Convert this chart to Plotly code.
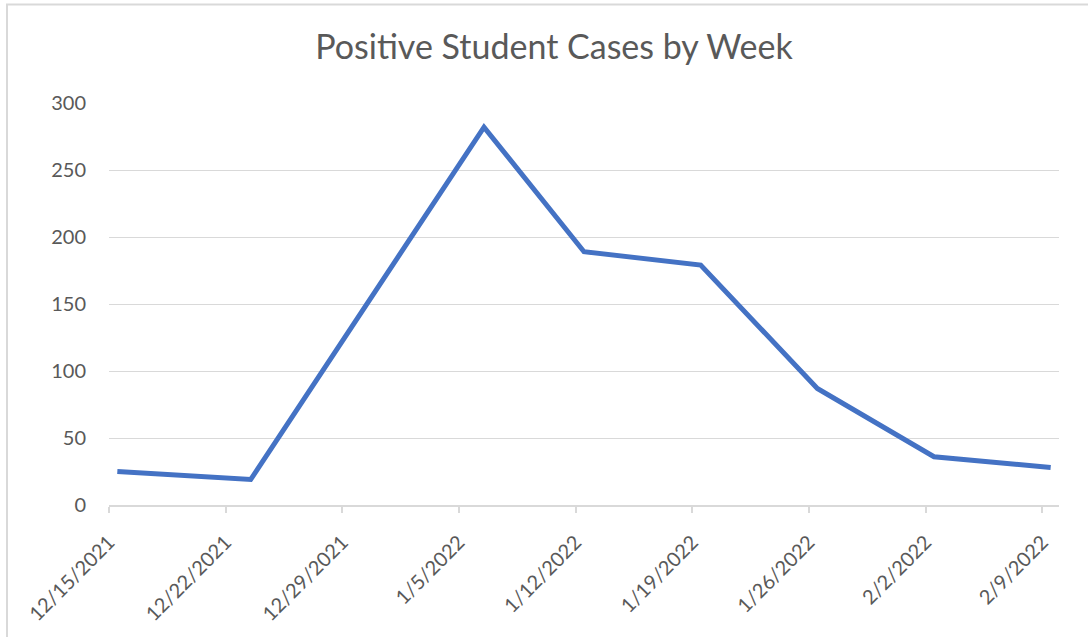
import pandas as pd
import plotly.graph_objects as go

# ---- data ----
week_dates = ["2021-12-15", "2021-12-23", "2022-01-06", "2022-01-12",
              "2022-01-19", "2022-01-26", "2022-02-02", "2022-02-09"]
positive_cases = [25, 19, 282, 189, 179, 87, 36, 28]

tick_dates = ["2021-12-15", "2021-12-22", "2021-12-29", "2022-01-05", "2022-01-12",
              "2022-01-19", "2022-01-26", "2022-02-02", "2022-02-09"]
tick_labels = ["12/15/2021", "12/22/2021", "12/29/2021", "1/5/2022", "1/12/2022",
               "1/19/2022", "1/26/2022", "2/2/2022", "2/9/2022"]
y_ticks = [0, 50, 100, 150, 200, 250, 300]

title_text = "Positive Student Cases by Week"

# Excel date axis centres each day's point in the middle of its day slot
x_vals = pd.to_datetime(week_dates) + pd.Timedelta(hours=12)

FONT = "Lato, Open Sans, sans-serif"
GRID = "#d9d9d9"
TXT = "#595959"

fig = go.Figure()
fig.add_trace(go.Scatter(
    x=x_vals, y=positive_cases, mode="lines",
    line=dict(color="#4472C4", width=5),
    showlegend=False,
))

W, H = 1088, 637
L, R, T, B = 109, 29, 103, 132
pw, ph = W - L - R, H - T - B

fig.update_layout(
    width=W, height=H,
    margin=dict(l=L, r=R, t=T, b=B),
    paper_bgcolor="white", plot_bgcolor="white",
    font=dict(family=FONT, color=TXT, size=20),
    title=dict(text=title_text, x=554 / W, xanchor="center", xref="container",
               y=1 - 47 / H, yanchor="middle", yref="container",
               font=dict(size=34, color=TXT, family=FONT)),
    xaxis=dict(
        type="date",
        range=["2021-12-15", "2022-02-10"],
        tickmode="array", tickvals=tick_dates, ticktext=tick_labels,
        tickangle=-45,
        showgrid=False, zeroline=False,
        showline=True, linecolor=GRID, linewidth=1.5,
        ticks="outside", ticklen=6, tickcolor=GRID, tickwidth=1.5,
        ticklabelstandoff=10,
        tickfont=dict(size=20, color=TXT, family=FONT),
    ),
    yaxis=dict(
        range=[0, 300],
        tickmode="array", tickvals=y_ticks,
        showgrid=True, gridcolor=GRID, gridwidth=1.3,
        zeroline=False, showline=False, ticks="",
        ticklabelstandoff=22,
        tickfont=dict(size=20, color=TXT, family=FONT),
    ),
    shapes=[dict(
        type="rect", xref="paper", yref="paper",
        x0=(7 - L) / pw, x1=(W + 10 - L) / pw,
        y0=(H - B - (H + 10)) / ph, y1=(H - B - 4.5) / ph,
        line=dict(color=GRID, width=2), fillcolor="rgba(0,0,0,0)",
        layer="below",
    )],
)

fig.write_html("out.html",
               config={"displayModeBar": False},
               post_script="document.body.style.margin='0';document.body.style.overflow='hidden';")
